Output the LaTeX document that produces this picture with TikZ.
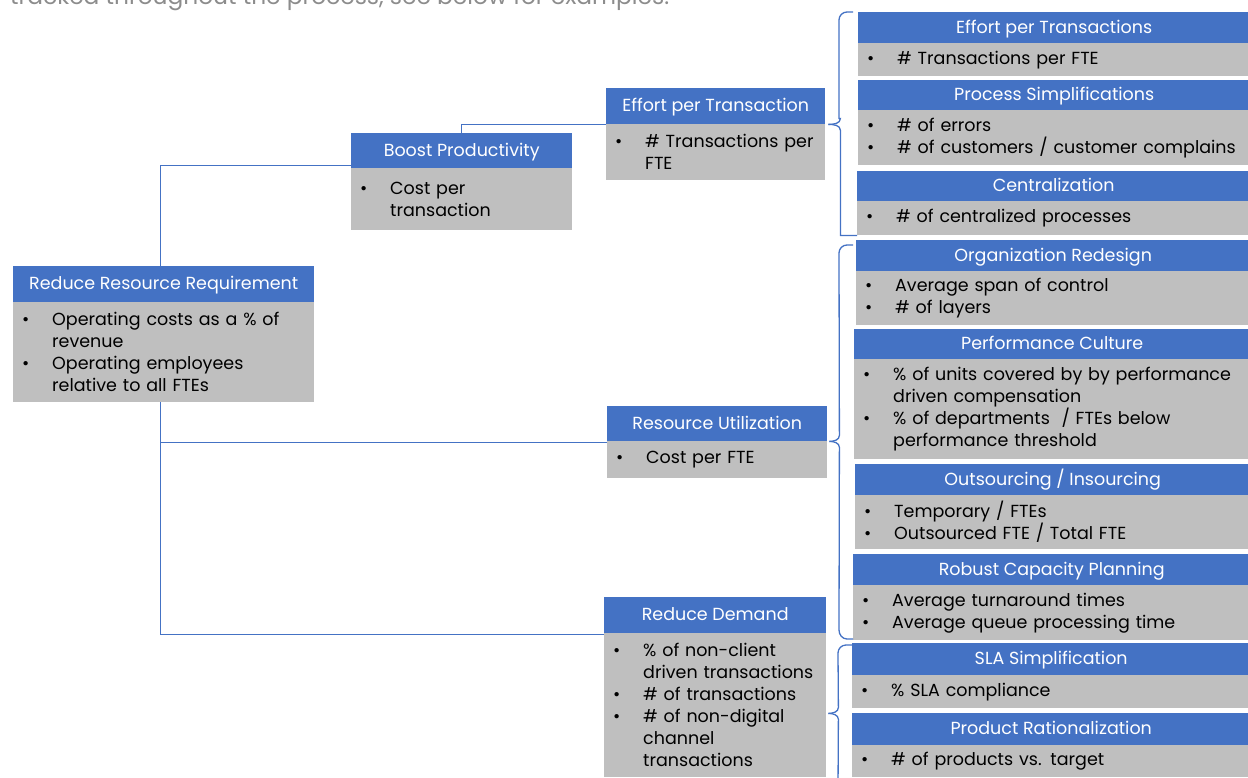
\documentclass[tikz,border=0pt]{standalone}
\usepackage{fontspec}
\setmainfont{Poppins}
\usetikzlibrary{calc}
\definecolor{hblue}{HTML}{4472C4}
\definecolor{bgray}{HTML}{BFBFBF}
\definecolor{lblue}{HTML}{4472C4}
\definecolor{topgray}{HTML}{8C8C8C}
\newcommand\bi[1]{\mbox{\makebox[30pt][l]{\textbullet}#1}}
\newcommand\bc[1]{\mbox{\hspace*{30pt}#1}}
\tikzset{
  hdr/.style={fill=hblue, text=white, inner sep=0pt, anchor=north west,
    text height=12pt, text depth=1pt,
    font=\fontsize{17.5}{22}\selectfont},
  bod/.style={fill=bgray, text=black, inner sep=0pt, anchor=north west, align=left,
    font=\fontsize{17.5}{22}\selectfont},
  conn/.style={draw=lblue, line width=1.3pt},
}
% name, x1, ytop, ymid, ybot, x2, header, body
\newcommand\kbox[8]{%
  \pgfmathsetmacro\kw{#6-#2}%
  \pgfmathsetmacro\kh{#4-#3}%
  \pgfmathsetmacro\kb{#5-#4}%
  \pgfmathsetmacro\kt{#6-#2-18}%
  \node[hdr, minimum width=\kw pt, minimum height=\kh pt] (#1-h) at (#2,#3) {#7};
  \node[bod, minimum width=\kw pt, minimum height=\kb pt, text width=\kt pt] (#1-b) at (#2,#4) {#8};
}
\begin{document}
\begin{tikzpicture}[x=1pt, y=-1pt]
\useasboundingbox (0,0) rectangle (1248,777);
\node[anchor=base west, inner sep=0pt, text=topgray, font=\fontsize{23.3}{26}\selectfont] (toptext) at (10,4) {tracked throughout the process, see below for examples.};

\kbox{root}{13}{266}{302}{402}{314}{Reduce Resource Requirement}{\bi{Operating costs as a \% of}\\\bc{revenue}\\\bi{Operating employees}\\\bc{relative to all FTEs}}
\kbox{boost}{351}{133}{168}{230}{572}{Boost Productivity}{\bi{Cost per}\\\bc{transaction}}
\kbox{efft}{606}{88}{124}{180}{825}{Effort per Transaction}{\bi{\# Transactions per}\\\bc{FTE}}
\kbox{res}{607}{406}{441}{478}{827}{Resource Utilization}{\bi{Cost per FTE}}
\kbox{dem}{604}{597}{633}{777}{826}{Reduce Demand}{\bi{\% of non-client}\\\bc{driven transactions}\\\bi{\# of transactions}\\\bi{\# of non-digital}\\\bc{channel}\\\bc{transactions}}

\kbox{r1}{858}{12}{43}{76}{1250}{Effort per Transactions}{\bi{\# Transactions per FTE}}
\kbox{r2}{858}{80}{110}{165}{1250}{Process Simplifications}{\bi{\# of errors}\\\bi{\# of customers / customer complains}}
\kbox{r3}{857}{171}{201}{235}{1250}{Centralization}{\bi{\# of centralized processes}}
\kbox{r4}{856}{240}{271}{325}{1250}{Organization Redesign}{\bi{Average span of control}\\\bi{\# of layers}}
\kbox{r5}{854}{329}{359}{459}{1250}{Performance Culture}{\bi{\% of units covered by by performance}\\\bc{driven compensation}\\\bi{\% of departments \ / FTEs below}\\\bc{performance threshold}}
\kbox{r6}{855}{464}{495}{549}{1250}{Outsourcing / Insourcing}{\bi{Temporary / FTEs}\\\bi{Outsourced FTE / Total FTE}}
\kbox{r7}{853}{554}{585}{640}{1250}{Robust Capacity Planning}{\bi{Average turnaround times}\\\bi{Average queue processing time}}
\kbox{r8}{852}{643}{675}{708}{1250}{SLA Simplification}{\bi{\% SLA compliance}}
\kbox{r9}{852}{713}{745}{777}{1250}{Product Rationalization}{\bi{\# of products vs. target}}

% connectors
\draw[conn] ($(root-h.north)+(-3,0)$) |- ($(boost-h.south west)+(0,-3)$);
\draw[conn] (boost-h.north) |- (efft-h.south west);
\draw[conn] ($(root-b.south)+(-3,0)$) |- ($(res-h.south west)+(0,1)$);
\draw[conn] ($(root-b.south)+(-3,0)$) |- ($(dem-h.south west)+(0,1)$);

% braces
\coordinate (t1) at ($(efft-h.south east)+(3,0)$);
\coordinate (t2) at ($(res-h.south east)+(2,0)$);
\coordinate (t3) at ($(dem-h.south east)+(2,80)$);
\draw[conn] (r1-h.north west) ++(-5,0) coordinate (a1) -- ++(-6,0) to[out=180,in=90] ++(-8,8) |- ($(t1)+(12,-6)$) to[out=270,in=0] (t1);
\draw[conn] (t1) to[out=0,in=90] ++(12,6) |- (r3-b.south west);
\draw[conn] (t2) to[out=0,in=270] ++(10,-6) -- (839,253) to[out=90,in=180] (847,245) -- (853,245);
\draw[conn] (t2) to[out=0,in=90] ++(10,6) -- (839,630) to[out=270,in=180] (847,639) -- (853,639);
\draw[conn] (t3) to[out=0,in=270] ++(10,-6) -- (838,653) to[out=90,in=180] (846,645) -- (852,645);
\draw[conn] (t3) to[out=0,in=90] ++(10,6) -- (838,790);
\end{tikzpicture}
\end{document}
